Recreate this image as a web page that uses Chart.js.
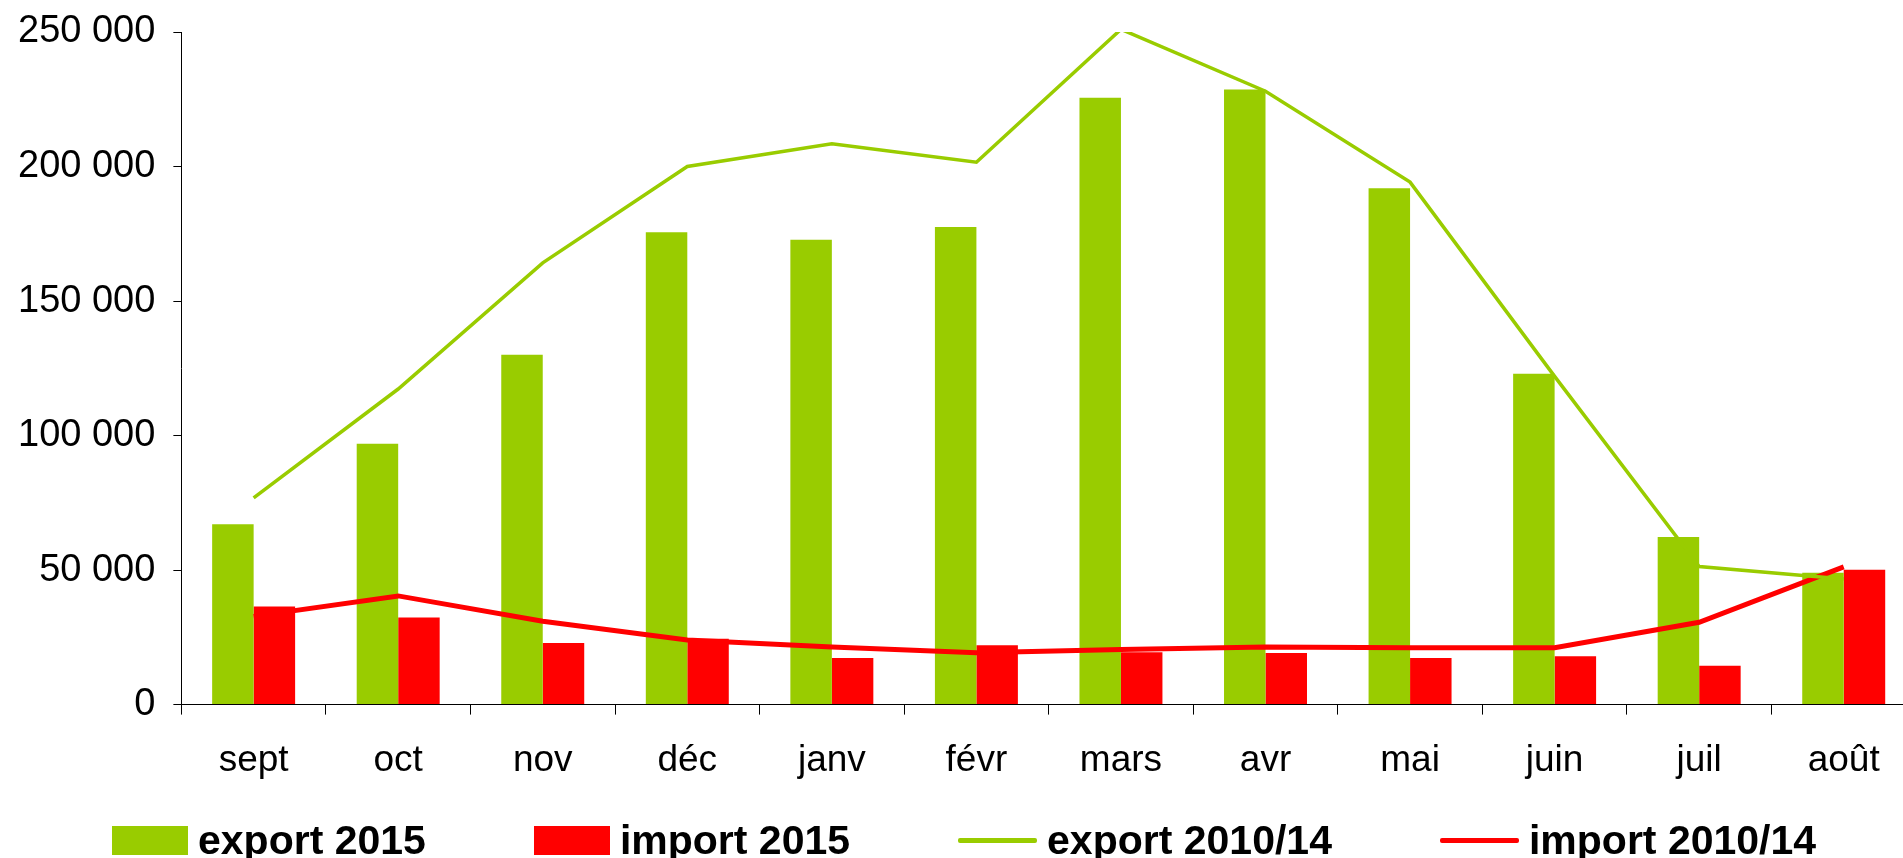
<!DOCTYPE html>
<html>
<head>
<meta charset="utf-8">
<script src="https://cdn.jsdelivr.net/npm/chart.js@4.4.1/dist/chart.umd.min.js"></script>
<style>
  body { margin: 0; background: #fff; }
  #wrap { position: relative; width: 1903px; height: 858px; overflow: hidden; }
  #plot { position: absolute; left: 0; top: 0; width: 1916px; height: 858px; }
  #legend {
    position: absolute; left: 112px; top: 818px; height: 44px;
    display: flex; align-items: center; gap: 108px;
    font: bold 41px "Liberation Sans", Arial, sans-serif; line-height: 44px; color: #000;
  }
  .item { display: flex; align-items: center; gap: 10px; white-space: nowrap; }
  .box { width: 76px; height: 29px; }
  .line { width: 79px; height: 5px; border-radius: 2px; }
</style>
</head>
<body>
<div id="wrap">
  <div id="plot"><canvas id="chart"></canvas></div>
  <div id="legend"></div>
</div>
<script>
const months = ['sept', 'oct', 'nov', 'déc', 'janv', 'févr', 'mars', 'avr', 'mai', 'juin', 'juil', 'août'];

const export2015 = [67000, 97000, 130000, 175600, 172800, 177500, 225600, 228600, 191900, 123000, 62300, 49000];
const import2015 = [36500, 32400, 22900, 24500, 17300, 22100, 19500, 19200, 17300, 18000, 14400, 50100];
const export2010_14 = [76800, 117300, 164200, 200000, 208500, 201600, 251000, 228000, 194200, 122000, 51300, 46700];
const import2010_14 = [32800, 40400, 31000, 24000, 21400, 19300, 20500, 21400, 21100, 21100, 30600, 51200];

const yTicks = [0, 50000, 100000, 150000, 200000, 250000];

const green = '#99cc00';
const red = '#ff0000';
const font = '"Liberation Sans", Arial, sans-serif';

const data = {
  labels: months,
  datasets: [
    { type: 'bar', label: 'export 2015', data: export2015, backgroundColor: green, order: 1,
      barPercentage: 1, categoryPercentage: 0.574 },
    { type: 'bar', label: 'import 2015', data: import2015, backgroundColor: red, order: 1,
      barPercentage: 1, categoryPercentage: 0.574 },
    { type: 'line', label: 'export 2010/14', data: export2010_14, borderColor: green, borderWidth: 3.5,
      pointRadius: 0, tension: 0, fill: false, order: 0 },
    { type: 'line', label: 'import 2010/14', data: import2010_14, borderColor: red, borderWidth: 5,
      pointRadius: 0, tension: 0, fill: false, order: 0 }
  ]
};

const config = {
  type: 'bar',
  data: data,
  options: {
    responsive: true,
    maintainAspectRatio: false,
    animation: false,
    layout: { padding: { top: 32, left: 0, right: 0, bottom: 51 } },
    plugins: {
      legend: { display: false },
      tooltip: { enabled: false }
    },
    scales: {
      x: {
        grid: { display: true, drawOnChartArea: false, drawTicks: true, tickLength: 10, color: '#000', offset: true },
        border: { display: true, color: '#000', width: 1 },
        ticks: { color: '#000', padding: 24, font: { family: font, size: 37 } }
      },
      y: {
        min: 0,
        max: 250000,
        afterBuildTicks: axis => { axis.ticks = yTicks.map(v => ({ value: v })); },
        grid: { display: true, drawOnChartArea: false, drawTicks: true, tickLength: 8, color: '#000' },
        border: { display: true, color: '#000', width: 1 },
        ticks: {
          color: '#000', padding: 18, font: { family: font, size: 38, lineHeight: 0.6 },
          callback: function(value) {
            return String(value).replace(/\B(?=(\d{3})+(?!\d))/g, ' ');
          }
        }
      }
    }
  }
};

const myChart = new Chart(document.getElementById('chart'), config);

// legend below the chart, built from the datasets
const legend = document.getElementById('legend');
myChart.data.datasets.forEach(ds => {
  const item = document.createElement('div');
  item.className = 'item';
  const mark = document.createElement('span');
  mark.className = ds.type === 'bar' ? 'box' : 'line';
  mark.style.background = ds.type === 'bar' ? ds.backgroundColor : ds.borderColor;
  const text = document.createElement('span');
  text.textContent = ds.label;
  item.appendChild(mark);
  item.appendChild(text);
  legend.appendChild(item);
});
</script>
</body>
</html>
